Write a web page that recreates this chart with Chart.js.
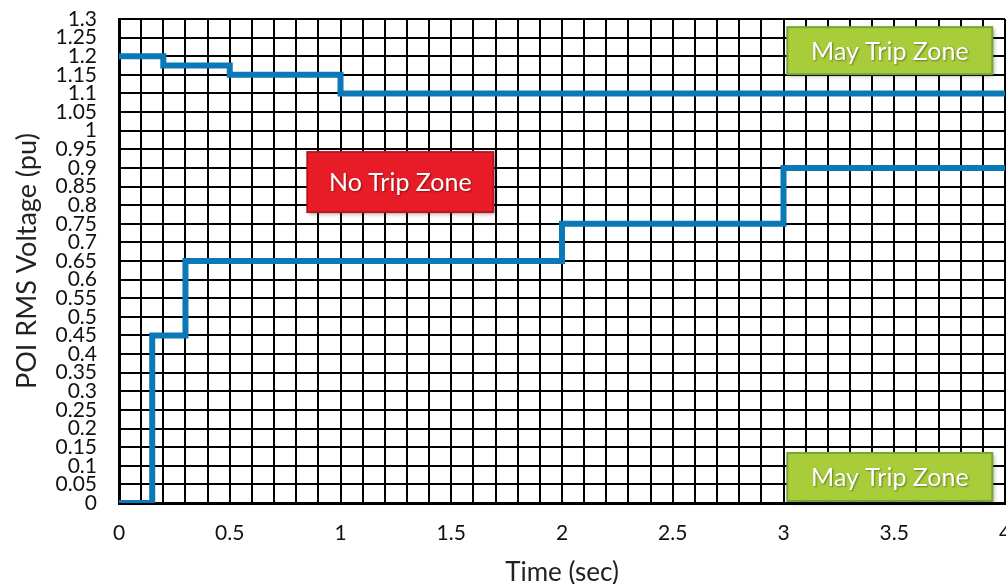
<!DOCTYPE html>
<html>
<head>
<meta charset="utf-8">
<script src="https://cdn.jsdelivr.net/npm/chart.js@4/dist/chart.umd.min.js"></script>
<style>
  html, body { margin: 0; padding: 0; background: #fff; overflow: hidden; }
  #wrap { width: 1006px; height: 584px; }
</style>
</head>
<body>
<div id="wrap"><canvas id="c"></canvas></div>
<script>
// upper boundary (over-voltage)
const upperTime = [0, 0.2, 0.5, 1, 4];
const upperVolt = [1.2, 1.175, 1.15, 1.1, 1.1];
// lower boundary (under-voltage)
const lowerTime = [0, 0.15, 0.3, 2, 3, 4];
const lowerVolt = [0, 0.45, 0.65, 0.75, 0.9, 0.9];

const zoneText = ['May Trip Zone', 'No Trip Zone', 'May Trip Zone'];
const zoneX = [3.48, 1.27, 3.48];
const zoneY = [1.215, 0.862, 0.07];
const zoneFill = ['#a9cc3a', '#e81c27', '#a9cc3a'];
const zoneEdge = ['#74a53a', '#b8171f', '#74a53a'];
const zoneW = [205, 186, 205];
const zoneH = [47, 60, 48];

const toPts = (xs, ys) => xs.map((x, i) => ({ x: x, y: ys[i] }));
const fmt = v => String(Number(v.toFixed(2)));

const zonePlugin = {
  id: 'zones',
  afterDatasetsDraw(chart) {
    const { ctx, scales } = chart;
    zoneText.forEach((t, i) => {
      const cx = scales.x.getPixelForValue(zoneX[i]);
      const cy = scales.y.getPixelForValue(zoneY[i]);
      const w = zoneW[i], h = zoneH[i];
      ctx.save();
      ctx.shadowColor = 'rgba(0,0,0,0.35)';
      ctx.shadowBlur = 4;
      ctx.shadowOffsetX = 2;
      ctx.shadowOffsetY = 2;
      ctx.fillStyle = zoneFill[i];
      ctx.fillRect(cx - w / 2, cy - h / 2, w, h);
      ctx.shadowColor = 'transparent';
      ctx.strokeStyle = zoneEdge[i];
      ctx.lineWidth = 2;
      ctx.strokeRect(cx - w / 2, cy - h / 2, w, h);
      ctx.fillStyle = '#fff';
      ctx.font = '25px Lato';
      ctx.textAlign = 'center';
      ctx.textBaseline = 'middle';
      ctx.shadowColor = 'rgba(0,0,0,0.4)';
      ctx.shadowBlur = 2;
      ctx.shadowOffsetX = 1;
      ctx.shadowOffsetY = 1;
      ctx.fillText(t, cx, cy + 1);
      ctx.restore();
    });
  }
};

new Chart(document.getElementById('c'), {
  type: 'line',
  data: {
    datasets: [
      { data: toPts(upperTime, upperVolt), stepped: true, borderColor: '#0b78b8', borderWidth: 6, pointRadius: 0, fill: false },
      { data: toPts(lowerTime, lowerVolt), stepped: true, borderColor: '#0b78b8', borderWidth: 6, pointRadius: 0, fill: false }
    ]
  },
  options: {
    responsive: true,
    maintainAspectRatio: false,
    animation: false,
    layout: { padding: { top: 19, right: 1, bottom: 0, left: 0 } },
    plugins: { legend: { display: false }, tooltip: { enabled: false } },
    scales: {
      x: {
        type: 'linear',
        min: 0, max: 4,
        afterFit: s => { s.height = 81; s.paddingRight = 0; s.paddingLeft = 0; },
        grid: { color: '#000', lineWidth: 2, drawTicks: false },
        border: { color: '#000', width: 3 },
        ticks: {
          stepSize: 0.1, autoSkip: false, maxRotation: 0, padding: 18,
          color: '#111', font: { family: 'Lato', size: 21 },
          callback: v => (Math.abs(v * 2 - Math.round(v * 2)) < 1e-6 ? fmt(v) : '')
        },
        title: { display: true, text: 'Time (sec)', color: '#222', font: { family: 'Lato', size: 26, lineHeight: 0.9 }, padding: { top: 0, bottom: 0 } }
      },
      y: {
        min: 0, max: 1.3,
        afterFit: s => { s.width = 119; s.paddingTop = 0; s.paddingBottom = 0; },
        grid: { color: '#000', lineWidth: 2, drawTicks: false },
        border: { color: '#000', width: 3 },
        ticks: {
          stepSize: 0.05, autoSkip: false, padding: 22,
          color: '#111', font: { family: 'Lato', size: 21 },
          callback: v => fmt(v)
        },
        title: { display: true, text: 'POI RMS Voltage (pu)', color: '#222', font: { family: 'Lato', size: 27, lineHeight: 2 }, padding: { top: 0, bottom: 0 } }
      }
    }
  },
  plugins: [zonePlugin]
});
</script>
</body>
</html>
